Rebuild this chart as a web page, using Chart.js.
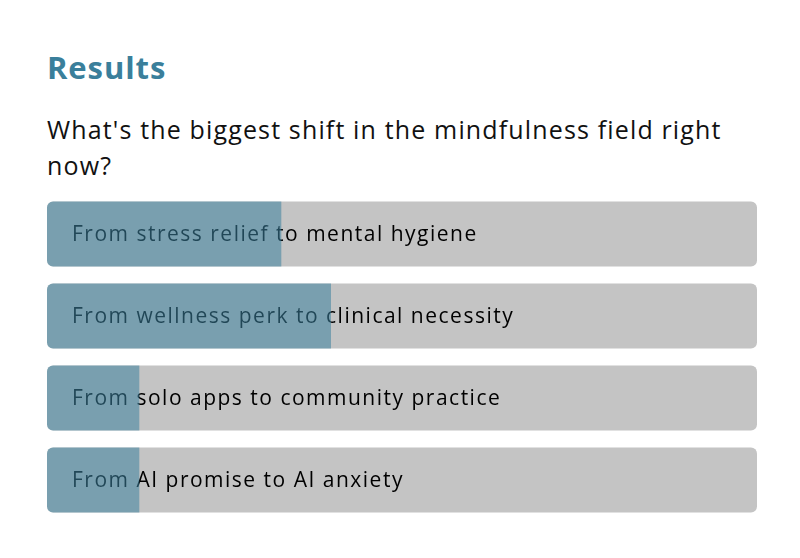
<!DOCTYPE html>
<html>
<head>
<meta charset="utf-8">
<script src="https://cdn.jsdelivr.net/npm/chart.js@4.4.0/dist/chart.umd.min.js"></script>
<style>
  html, body { margin: 0; padding: 0; background: #ffffff; width: 800px; height: 558px; overflow: hidden; }
  body { position: relative; font-family: "Open Sans", "DejaVu Sans", sans-serif; }
  #title { position: absolute; left: 47px; top: 47px; font-size: 31px; font-weight: 700; color: #3a7f9b; line-height: 40px; letter-spacing: 0.9px; }
  #question { position: absolute; left: 47px; top: 111px; width: 700px; font-size: 25px; font-weight: 500; color: #111111; line-height: 36px; letter-spacing: 1.15px; }
  #wrap { position: absolute; left: 47px; top: 193px; width: 710px; height: 328px; }
</style>
</head>
<body>
<div id="title">Results</div>
<div id="question">What's the biggest shift in the mindfulness field right now?</div>
<div id="wrap"><canvas id="c"></canvas></div>
<script>
const categories = [
  "From stress relief to mental hygiene",
  "From wellness perk to clinical necessity",
  "From solo apps to community practice",
  "From AI promise to AI anxiety"
];
const percentages = [33, 40, 13, 13];
const trackValues = [100, 100, 100, 100];

const labelPlugin = {
  id: 'insideLabels',
  afterDatasetDraw(chart, args) {
    if (args.index !== 1) return;
    const ctx = chart.ctx;
    const meta = args.meta;
    ctx.save();
    ctx.font = '500 21px "Open Sans", "DejaVu Sans", sans-serif';
    if ('letterSpacing' in ctx) ctx.letterSpacing = '1.5px';
    ctx.fillStyle = '#000000';
    ctx.textBaseline = 'middle';
    ctx.textAlign = 'left';
    meta.data.forEach((bar, i) => {
      const left = bar.base;
      ctx.fillText(categories[i], left + 25, bar.y + 1);
    });
    ctx.restore();
  }
};

new Chart(document.getElementById('c'), {
  type: 'bar',
  data: {
    labels: categories,
    datasets: [
      {
        label: 'Result',
        data: percentages,
        backgroundColor: 'rgba(60,130,158,0.55)',
        borderSkipped: false,
        borderRadius: { topLeft: 6, bottomLeft: 6, topRight: 0, bottomRight: 0 },
        order: 1,
        grouped: false,
        barPercentage: 1,
        categoryPercentage: 0.793
      },
      {
        label: 'Track',
        data: trackValues,
        backgroundColor: '#c4c4c4',
        borderSkipped: false,
        borderRadius: 6,
        order: 2,
        grouped: false,
        barPercentage: 1,
        categoryPercentage: 0.793
      }
    ]
  },
  options: {
    indexAxis: 'y',
    responsive: true,
    maintainAspectRatio: false,
    animation: false,
    layout: { padding: 0 },
    plugins: { legend: { display: false }, tooltip: { enabled: false }, title: { display: false } },
    scales: {
      x: { display: false, min: 0, max: 100 },
      y: { display: false }
    }
  },
  plugins: [labelPlugin]
});
</script>
</body>
</html>
